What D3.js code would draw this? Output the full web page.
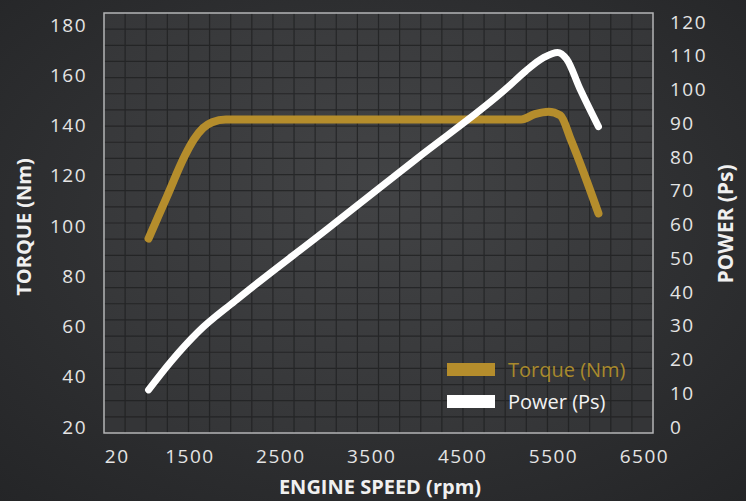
<!DOCTYPE html>
<html>
<head>
<meta charset="utf-8">
<script src="https://cdn.jsdelivr.net/npm/d3@7"></script>
<style>
  html, body { margin: 0; padding: 0; background: #2b2c2e; }
  svg { display: block; }
  text { font-family: "Open Sans", sans-serif; }
</style>
</head>
<body>
<div id="chart"></div>
<script>
// Data
const torqueRpm = [1050, 1250, 1450, 1550, 1650, 1750, 1900, 3000, 4000, 5150, 5300, 5450, 5580, 5700, 5850, 6000];
const torqueNm  = [95, 111.5, 128, 134.5, 139, 141.3, 142.4, 142.4, 142.4, 142.4, 144.5, 145.5, 144, 134, 120, 105];

const powerRpm = [1050, 1300, 1600, 2000, 3000, 4000, 5000, 5200, 5400, 5550, 5650, 5800, 6000];
const powerPs  = [11, 19.5, 28.3, 37.3, 58.3, 79.5, 100.6, 105.5, 109.5, 111, 109, 100, 89];

const xTickValues = [700, 1500, 2500, 3500, 4500, 5500, 6500];
const xTickLabels = ['20', '1500', '2500', '3500', '4500', '5500', '6500'];
const torqueTicks = [20, 40, 60, 80, 100, 120, 140, 160, 180];
const powerTicks = [0, 10, 20, 30, 40, 50, 60, 70, 80, 90, 100, 110, 120];

const legendLabels = ['Torque (Nm)', 'Power (Ps)'];

// Chart size and plot box
const width = 746;
const height = 501;
const box = { left: 104, right: 653, top: 13, bottom: 433 };
const gridCells = 26;

const torqueColor = '#b58d2c';

const svg = d3.select('#chart')
    .append('svg')
    .attr('width', width)
    .attr('height', height);

// Background texture (simple gradients)
const defs = svg.append('defs');
const bg = defs.append('radialGradient').attr('id', 'bg').attr('cx', '50%').attr('cy', '45%').attr('r', '75%');
bg.append('stop').attr('offset', '0%').attr('stop-color', '#3b3c3e');
bg.append('stop').attr('offset', '100%').attr('stop-color', '#242527');
const plotBg = defs.append('radialGradient').attr('id', 'plotbg').attr('cx', '50%').attr('cy', '40%').attr('r', '70%');
plotBg.append('stop').attr('offset', '0%').attr('stop-color', '#424345');
plotBg.append('stop').attr('offset', '100%').attr('stop-color', '#343537');

svg.append('rect').attr('width', width).attr('height', height).attr('fill', 'url(#bg)');
svg.append('rect')
    .attr('x', box.left).attr('y', box.top)
    .attr('width', box.right - box.left).attr('height', box.bottom - box.top)
    .attr('fill', 'url(#plotbg)');

// Scales
const xScale = d3.scaleLinear().domain([560, 6600]).range([box.left, box.right]);
const yTorque = d3.scaleLinear().domain([20, 180]).range([427, 25]);
const yPower = d3.scaleLinear().domain([0, 120]).range([427, 22]);

// Background grid (26 x 26 cells across the box)
const gx = d3.scaleLinear().domain([0, gridCells]).range([box.left, box.right]);
const gy = d3.scaleLinear().domain([0, gridCells]).range([box.top, box.bottom]);
const grid = svg.append('g').attr('stroke', '#1c1d1e').attr('stroke-width', 1.2).attr('opacity', 0.7);
grid.selectAll('.vl').data(d3.range(1, gridCells)).join('line')
    .attr('x1', d => gx(d)).attr('x2', d => gx(d))
    .attr('y1', box.top).attr('y2', box.bottom);
grid.selectAll('.hl').data(d3.range(1, gridCells)).join('line')
    .attr('y1', d => gy(d)).attr('y2', d => gy(d))
    .attr('x1', box.left).attr('x2', box.right);

// Frame
svg.append('rect')
    .attr('x', box.left).attr('y', box.top)
    .attr('width', box.right - box.left).attr('height', box.bottom - box.top)
    .attr('fill', 'none').attr('stroke', '#b4b5b6').attr('stroke-width', 1.5);

// Axes
function styleAxis(g) {
    g.select('.domain').remove();
    g.selectAll('.tick line').remove();
    g.selectAll('text')
        .attr('fill', '#e4e4e4')
        .style('font-size', '19px')
        .style('letter-spacing', '1.5px');
}

svg.append('g')
    .attr('transform', `translate(${box.left - 10}, 0)`)
    .call(d3.axisLeft(yTorque).tickValues(torqueTicks).tickSize(0).tickPadding(7))
    .call(styleAxis);

svg.append('g')
    .attr('transform', `translate(${box.right + 11}, 0)`)
    .call(d3.axisRight(yPower).tickValues(powerTicks).tickSize(0).tickPadding(6))
    .call(styleAxis);

svg.append('g')
    .attr('transform', `translate(0, ${box.bottom + 13})`)
    .call(d3.axisBottom(xScale).tickValues(xTickValues).tickFormat((d, i) => xTickLabels[i]).tickSize(0))
    .call(styleAxis);

// Axis titles
svg.append('text')
    .attr('transform', `translate(31, 227) rotate(-90)`)
    .attr('text-anchor', 'middle')
    .attr('fill', '#f0f0f0')
    .style('font-size', '20px').style('font-weight', 'bold')
    .text('TORQUE (Nm)');

svg.append('text')
    .attr('transform', `translate(733, 224) rotate(-90)`)
    .attr('text-anchor', 'middle')
    .attr('fill', '#f0f0f0')
    .style('font-size', '21px').style('font-weight', 'bold')
    .text('POWER (Ps)');

svg.append('text')
    .attr('x', 380).attr('y', 494)
    .attr('text-anchor', 'middle')
    .attr('fill', '#f0f0f0')
    .style('font-size', '20px').style('font-weight', 'bold')
    .text('ENGINE SPEED (rpm)');

// Lines
const torqueData = torqueRpm.map((r, i) => [r, torqueNm[i]]);
const powerData = powerRpm.map((r, i) => [r, powerPs[i]]);

const torqueLine = d3.line().x(d => xScale(d[0])).y(d => yTorque(d[1])).curve(d3.curveMonotoneX);
const powerLine = d3.line().x(d => xScale(d[0])).y(d => yPower(d[1])).curve(d3.curveMonotoneX);

svg.append('path')
    .datum(torqueData)
    .attr('fill', 'none')
    .attr('stroke', torqueColor)
    .attr('stroke-width', 8)
    .attr('stroke-linecap', 'round')
    .attr('stroke-linejoin', 'round')
    .attr('d', torqueLine);

svg.append('path')
    .datum(powerData)
    .attr('fill', 'none')
    .attr('stroke', '#ffffff')
    .attr('stroke-width', 7)
    .attr('stroke-linecap', 'round')
    .attr('stroke-linejoin', 'round')
    .attr('d', powerLine);

// Legend
const legendColors = [torqueColor, '#ffffff'];
const legendTextColors = ['#a98a2c', '#f2f2f2'];
const legend = svg.append('g').attr('transform', 'translate(447, 363)');
legendLabels.forEach((label, i) => {
    const row = legend.append('g').attr('transform', `translate(0, ${i * 32})`);
    row.append('rect').attr('width', 48).attr('height', 13).attr('fill', legendColors[i]);
    row.append('text')
        .attr('x', 61).attr('y', 14)
        .attr('fill', legendTextColors[i])
        .style('font-size', '20px')
        .text(label);
});
</script>
</body>
</html>
